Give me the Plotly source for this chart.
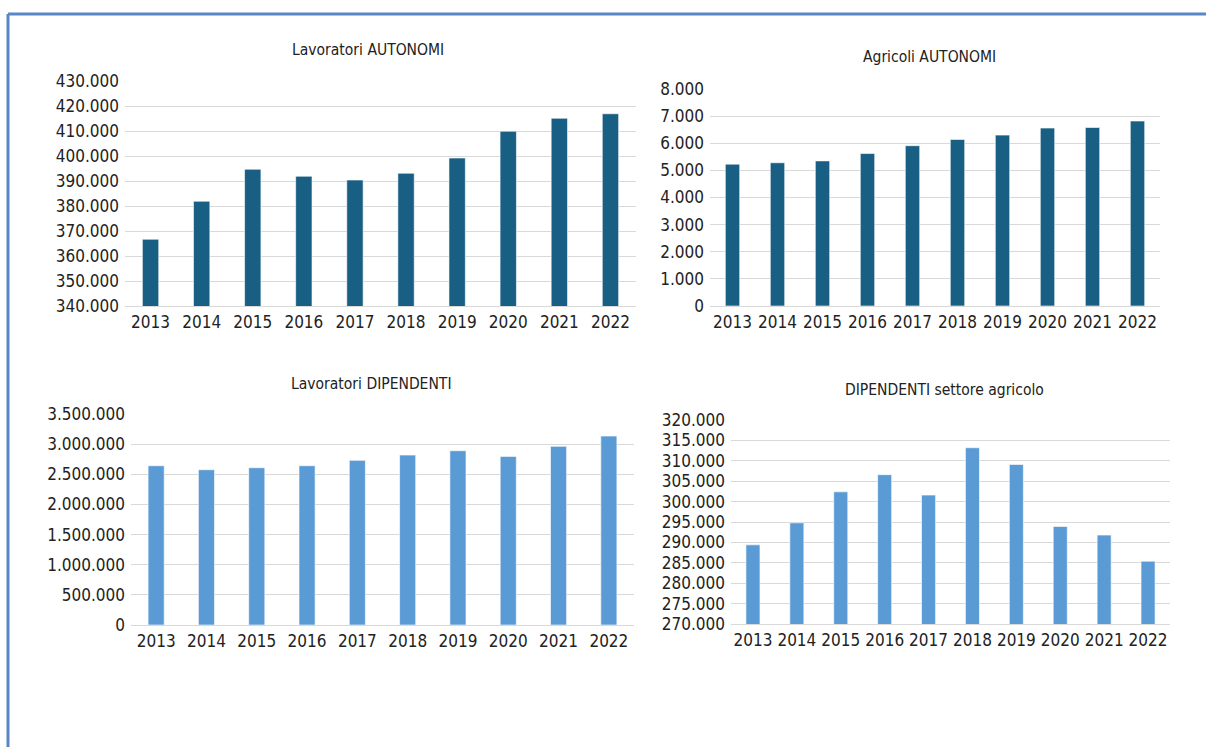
import plotly.graph_objects as go

years = ["2013", "2014", "2015", "2016", "2017", "2018", "2019", "2020", "2021", "2022"]
lavoratori_autonomi = [366700, 381900, 394700, 391900, 390400, 393100, 399200, 409900, 415100, 416900]
agricoli_autonomi = [5230, 5280, 5350, 5620, 5910, 6140, 6300, 6560, 6580, 6820]
lavoratori_dipendenti = [2642000, 2576000, 2609000, 2642000, 2731000, 2819000, 2891000, 2797000, 2963000, 3134000]
dipendenti_agricolo = [289400, 294800, 302400, 306600, 301600, 313200, 309100, 293900, 291800, 285400]

titles = ["Lavoratori AUTONOMI", "Agricoli AUTONOMI", "Lavoratori DIPENDENTI", "DIPENDENTI settore agricolo"]

W, H = 1206, 747
FONT = "DejaVu Sans Condensed, Liberation Sans Narrow, sans-serif"
DARK = "#195e83"
LIGHT = "#5b9bd5"
TXT = "#222222"

# pixel boxes: (x0, x1, ytop, ybottom)
boxes = [
    (125, 636, 81, 306),
    (710, 1160, 89, 306),
    (131, 634, 414, 625),
    (731, 1170, 420, 624),
]
ranges = [(340000, 430000, 10000), (0, 8000, 1000), (0, 3500000, 500000), (270000, 320000, 5000)]
series = [lavoratori_autonomi, agricoli_autonomi, lavoratori_dipendenti, dipendenti_agricolo]
colors = [DARK, DARK, LIGHT, LIGHT]
title_pos = [(368, 50), (929, 57), (371, 384), (944, 390)]

fig = go.Figure()
layout = dict(
    width=W, height=H,
    margin=dict(l=0, r=0, t=0, b=0, autoexpand=False),
    paper_bgcolor="white", plot_bgcolor="white",
    separators=",.",
    showlegend=False,
    bargap=0.68,
    font=dict(family=FONT, size=17, color=TXT),
)
annotations = []
for i in range(4):
    n = "" if i == 0 else str(i + 1)
    x0, x1, yt, yb = boxes[i]
    lo, hi, dt = ranges[i]
    fig.add_trace(go.Bar(
        x=years, y=series[i], xaxis="x" + n, yaxis="y" + n,
        marker=dict(color=colors[i], line=dict(color="rgba(255,255,255,0.6)", width=1)),
    ))
    layout["xaxis" + n] = dict(
        domain=[x0 / W, x1 / W], anchor="y" + n, type="category",
        showgrid=False, showline=True, linecolor="#d9d9d9", linewidth=1,
        ticks="", tickangle=0, automargin=False, ticklabelstandoff=1,
        tickfont=dict(family=FONT, size=17, color=TXT),
        fixedrange=True,
    )
    layout["yaxis" + n] = dict(
        domain=[1 - yb / H, 1 - yt / H], anchor="x" + n,
        range=[lo, hi], dtick=dt, tick0=lo, tickformat=",d",
        showgrid=True, gridcolor="#d9d9d9", gridwidth=1,
        zeroline=False, showline=False, ticks="", automargin=False,
        ticklabelstandoff=5,
        tickfont=dict(family=FONT, size=17, color=TXT),
        fixedrange=True,
    )
    tx, ty = title_pos[i]
    annotations.append(dict(
        text=titles[i], x=tx / W, y=1 - ty / H, xref="paper", yref="paper",
        showarrow=False, xanchor="center", yanchor="middle",
        font=dict(family=FONT, size=15.5, color=TXT),
    ))

layout["annotations"] = annotations
layout["shapes"] = [
    dict(type="line", xref="paper", yref="paper", x0=8 / W, x1=1, y0=1 - 14 / H, y1=1 - 14 / H,
         line=dict(color="#5a86c4", width=3)),
    dict(type="line", xref="paper", yref="paper", x0=8 / W, x1=8 / W, y0=0, y1=1 - 14 / H,
         line=dict(color="#5a86c4", width=3)),
]
fig.update_layout(**layout)
fig.write_html(
    "out.html",
    config={"displayModeBar": False, "staticPlot": True},
    post_script="document.body.style.margin='0';document.body.style.overflow='hidden';",
)
